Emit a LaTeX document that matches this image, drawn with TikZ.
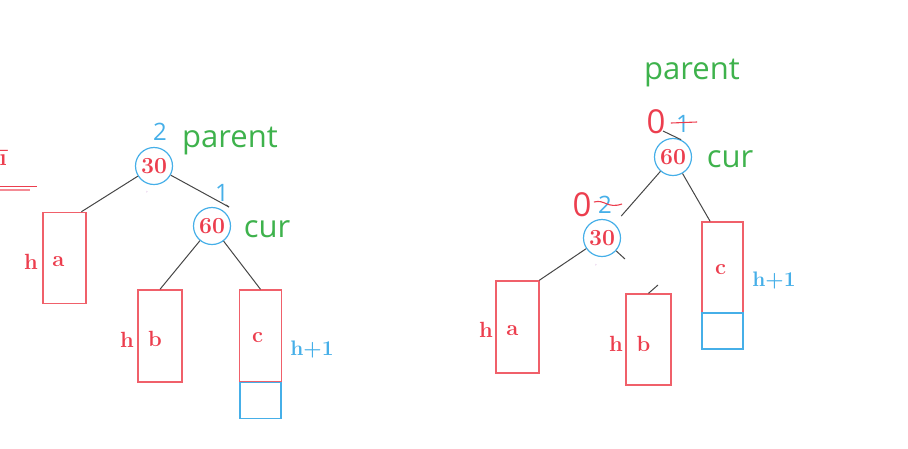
\documentclass[tikz,border=0pt]{standalone}
\usepackage{fontspec}
\usetikzlibrary{calc}
\newfontfamily\osans{Open Sans}
\definecolor{cred}{RGB}{236,62,78}
\definecolor{cbox}{RGB}{240,96,106}
\definecolor{cblue}{RGB}{70,175,232}
\definecolor{cgreen}{RGB}{62,178,76}
\definecolor{cedge}{RGB}{70,70,70}
\definecolor{cpurple}{RGB}{190,120,200}
\tikzset{
  keynode/.style={circle, draw=cblue, line width=1.2pt, minimum size=37pt, inner sep=0pt,
    text=cred, font=\fontsize{23}{23}\selectfont\bfseries},
  subtree/.style={rectangle, draw=cbox, line width=1.4pt, minimum width=43pt, minimum height=91pt,
    inner sep=0pt},
  extra/.style={rectangle, draw=cblue, line width=1.4pt, minimum width=41pt, minimum height=36pt, inner sep=0pt},
  hlabel/.style={text=cred, font=\fontsize{22}{22}\selectfont\bfseries, inner sep=0pt},
  hplus/.style={text=cblue, font=\fontsize{21}{21}\selectfont\bfseries, inner sep=0pt},
  ptr/.style={text=cgreen, font=\osans\fontsize{31}{31}\selectfont, inner sep=0pt},
  bf/.style={text=cblue, font=\osans\fontsize{24}{24}\selectfont, inner sep=0pt},
  newbf/.style={text=cred, font=\osans\fontsize{33}{33}\selectfont, inner sep=0pt},
  edge/.style={draw=cedge, line width=1pt},
  strike/.style={draw=cred, line width=1.1pt}
}
\begin{document}
\begin{tikzpicture}[x=1pt,y=-1pt]
\useasboundingbox (0,0) rectangle (908,448);
% ---------- left tree ----------
\node[keynode] (n30) at (154,166) {30};
\node[keynode] (n60) at (212,226) {60};
\node[bf] (bf30) at (160,132) {2};
\node[bf] (bf60) at (222,193) {1};
\node[ptr] (par1) at (230,141) {parent};
\node[ptr] (cur1) at (267,229) {cur};
\node[subtree, minimum width=43pt, minimum height=91pt] (a1) at (64.5,258) {};
\node[subtree, minimum width=44pt, minimum height=92pt] (b1) at (160,336) {};
\node[subtree, minimum width=42pt, minimum height=92pt] (c1) at (260.5,336) {};
\node[extra] (x1) at (260.5,400.5) {};
\node[hlabel] (la1) at ($(a1)+(-6,4)$) {a};
\node[hlabel] (lb1) at ($(b1)+(-5,3)$) {b};
\node[hlabel] (lc1) at ($(c1)+(-3,2)$) {c};
\node[hlabel] (ha1) at (31,262) {h};
\node[hlabel] (hb1) at (127,340) {h};
\node[hplus] (hc1) at (312,350) {h+1};
\coordinate (t1) at (229,207);
\draw[edge] (n30) -- (a1.70);
\draw[edge] (n30) -- (t1);
\draw[edge] (t1) -- ++(-3,-2);
\draw[edge] (n60) -- (b1.north);
\draw[edge] (n60) -- (c1.north);
\node[text=cpurple, font=\fontsize{6}{6}\selectfont, inner sep=0pt] (dot1) at (147,193) {'};
% cut-off fragment on the left edge
\node[text=cred, font=\fontsize{24}{24}\selectfont\bfseries, inner sep=0pt, anchor=east] (frag) at (7,158) {ī};
\coordinate (fa) at (0,186.5);
\coordinate (fb) at (37,186.5);
\coordinate (fc) at (0,190);
\coordinate (fd) at (30,190);
\draw[cred, line width=1.4pt] (fa) -- (fb);
\draw[cred!60, line width=1.2pt] (fc) -- (fd);
% ---------- right tree ----------
\node[keynode] (r60) at (673,157) {60};
\node[keynode] (r30) at (602,238) {30};
\node[ptr] (par2) at (692,73) {parent};
\node[ptr] (cur2) at (730,159) {cur};
\node[newbf] (z60) at (656,122) {0};
\node[bf] (o60) at (683,124) {1};
\draw[strike] ($(o60.west)+(-5,-1)$) -- ($(o60.east)+(7,-2)$);
\node[newbf] (z30) at (582,205) {0};
\node[bf] (o30) at (605,205) {2};
\draw[strike] ($(o30.west)+(-4,-3)$) .. controls ($(o30.center)+(0,-6)$) and ($(o30.center)+(2,4)$) .. ($(o30.east)+(10,-1)$);
\node[subtree, minimum width=43pt, minimum height=92pt] (a2) at (517.5,327) {};
\node[subtree, minimum width=45pt, minimum height=91pt] (b2) at (648.5,339.5) {};
\node[subtree, minimum width=41pt, minimum height=91pt] (c2) at (722.5,267.5) {};
\node[extra] (x2) at (722.5,331) {};
\node[hlabel] (la2) at ($(a2)+(-5,4)$) {a};
\node[hlabel] (lb2) at ($(b2)+(-5,4)$) {b};
\node[hlabel] (lc2) at ($(c2)+(-2,2)$) {c};
\node[hlabel] (ha2) at (486,330) {h};
\node[hlabel] (hb2) at (616,344) {h};
\node[hplus] (hc2) at (774,281) {h+1};
\draw[edge, shorten >=10pt] (r60) -- (r30);
\draw[edge] (r60) -- (c2.105);
\draw[edge] (r30) -- (a2.65);
\coordinate (s1) at (625,259);
\draw[edge] (r30) -- (s1);
\coordinate (s2) at (658,285);
\draw[edge] (b2.north) -- (s2);
\coordinate (s3) at (663,131);
\draw[edge] (s3) -- (r60.65);
\node[text=cpurple, font=\fontsize{6}{6}\selectfont, inner sep=0pt] (dot2) at (596,266) {'};
\end{tikzpicture}
\end{document}
